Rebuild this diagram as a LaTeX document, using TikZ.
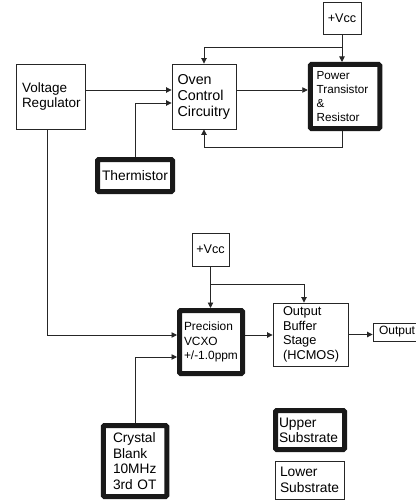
\documentclass[tikz,border=0pt]{standalone}
\usepackage{fontspec}
\setmainfont{Liberation Sans}
\usetikzlibrary{arrows.meta}
\newcommand{\fsz}[2]{\fontsize{#1pt}{#2pt}\selectfont}
\tikzset{
  blk/.style={draw=black!85, line width=0.9pt, inner ysep=0pt, align=left},
  thk/.style={draw=black!90, line width=5pt, rounded corners=1.2pt, inner ysep=0pt, align=left},
  conn/.style={draw=black!85, line width=0.9pt, -{Triangle[length=5.5pt,width=5.5pt]}},
}
\begin{document}
\begin{tikzpicture}[x=1pt,y=-1pt]
\useasboundingbox (0,0) rectangle (415,500);
% top half
\node[blk, align=center, minimum height=32pt, text width=38pt, inner xsep=0pt, font={\fsz{12.6}{14}}] (vcc1) at (342,18) {+Vcc};
\node[blk, minimum height=65pt, text width=57pt, inner xsep=6pt, font={\fsz{13.5}{15}}] (vr) at (50.5,96.5) {Voltage\\Regulator};
\node[blk, minimum height=65pt, text width=53pt, inner xsep=5.5pt, font={\fsz{14.3}{16}}] (oven) at (204,96.5) {Oven\\Control\\Circuitry};
\node[thk, minimum height=64pt, text width=56.7pt, inner xsep=6.4pt, font={\fsz{11.7}{13.7}}] (power) at (345,96.5) {Power\\Transistor\\\&\\Resistor};
\node[thk, align=center, minimum height=32pt, text width=75pt, inner xsep=0pt, font={\fsz{13.8}{15}}] (therm) at (135,175.5) {Thermistor};
% bottom half
\node[blk, align=center, minimum height=33pt, text width=37pt, inner xsep=0pt, font={\fsz{12.6}{14}}] (vcc2) at (210.5,249.5) {+Vcc};
\node[thk, minimum height=63pt, text width=54pt, inner xsep=4.5pt, font={\fsz{11.9}{14.5}}] (vcxo) at (211,342) {Precision\\VCXO\\+/-1.0ppm};
\node[blk, minimum height=63pt, text width=55pt, inner xsep=10pt, font={\fsz{12.8}{14.7}}] (obuf) at (310.5,334.5) {Output\\Buffer\\Stage\\(HCMOS)};
\node[blk, minimum height=18pt, text width=36pt, inner xsep=6pt, font={\fsz{12}{14}}] (out) at (397,332) {Output};
\node[thk, minimum height=71pt, text width=44pt, inner xsep=9.75pt, font={\fsz{13.7}{15.7}}] (crystal) at (135,461) {Crystal\\Blank\\10MHz\\3rd OT};
\node[thk, minimum height=39pt, text width=62pt, inner xsep=3.5pt, font={\fsz{13.8}{15}}] (upper) at (310,430) {Upper\\Substrate};
\node[blk, minimum height=38pt, text width=59pt, inner xsep=5pt, font={\fsz{13.8}{15.5}}] (lower) at (309.5,480) {Lower\\Substrate};
% connectors top
\coordinate (j1) at (342,47);
\coordinate (j2) at (342,147);
\draw[conn] (vcc1.south) -- (vcc1.south |- power.north);
\draw[conn] (j1) -| (oven.north);
\draw[conn] ([yshift=6.5pt]vr.east) -- ([yshift=6.5pt]vr.east -| oven.west);
\draw[conn] (therm.north) |- ([yshift=-6.5pt]oven.west);
\draw[conn] ([yshift=6.5pt]oven.east) -- ([yshift=6.5pt]oven.east -| power.west);
\draw[conn] (power.south -| j2) -- (j2) -| (oven.south);
% connectors bottom
\coordinate (j3) at (47,335);
\coordinate (j4) at (210.5,284);
\draw[conn] (vr.south -| j3) -- (j3) -- (j3 -| vcxo.west);
\draw[conn] (crystal.north) |- ([yshift=-15pt]vcxo.west);
\draw[conn] (vcc2.south) -- (vcc2.south |- vcxo.north);
\draw[conn] (j4) -| ([xshift=-6.5pt]obuf.north);
\draw[conn] ([yshift=7pt]vcxo.east) -- ([yshift=7pt]vcxo.east -| obuf.west);
\draw[conn] (obuf.east) -- (obuf.east -| out.west);
\end{tikzpicture}
\end{document}
